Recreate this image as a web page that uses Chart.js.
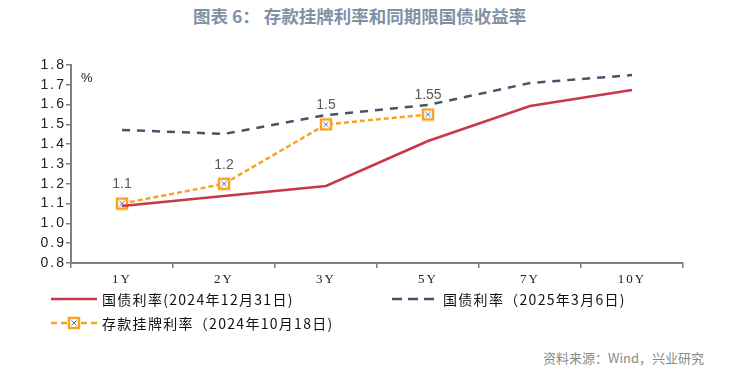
<!DOCTYPE html>
<html lang="zh">
<head>
  <meta charset="UTF-8">
  <title>存款挂牌利率和同期限国债收益率</title>
  <script src="https://cdn.jsdelivr.net/npm/chart.js@4.4.1/dist/chart.umd.min.js"></script>
  <style>
    * { margin: 0; padding: 0; box-sizing: border-box; }
    body {
      width: 736px;
      height: 373px;
      background: #fff;
      font-family: "Noto Sans CJK SC", sans-serif;
      position: relative;
      overflow: hidden;
    }
    .title {
      position: absolute;
      top: 3px;
      left: 193px;
      font-size: 17.5px;
      font-weight: bold;
      color: #8290a6;
      white-space: nowrap;
    }
    .wrap {
      position: absolute;
      left: 0;
      top: 0;
      width: 736px;
      height: 292px;
    }
    .unit {
      position: absolute;
      left: 81px;
      top: 70px;
      font-size: 13px;
      color: #222;
      font-family: "Liberation Sans", sans-serif;
    }
    .legend {
      position: absolute;
      font-size: 14px;
      letter-spacing: 1.3px;
      color: #111;
      display: flex;
      align-items: center;
      white-space: nowrap;
      height: 20px;
    }
    .legend canvas { margin-right: 5px; }
    .source {
      position: absolute;
      left: 543px;
      top: 348px;
      font-size: 13px;
      color: #8a8a8a;
      white-space: nowrap;
    }
  </style>
</head>
<body>
  <div class="title">图表 6： 存款挂牌利率和同期限国债收益率</div>
  <div class="wrap"><canvas id="chart"></canvas></div>
  <div class="unit">%</div>
  <div class="legend" style="left:51px;top:289px;"><canvas id="lg0" width="46" height="14"></canvas>国债利率(2024年12月31日)</div>
  <div class="legend" style="left:392px;top:289px;"><canvas id="lg1" width="46" height="14"></canvas>国债利率（2025年3月6日)</div>
  <div class="legend" style="left:51px;top:313px;"><canvas id="lg2" width="46" height="14"></canvas>存款挂牌利率（2024年10月18日)</div>
  <div class="source">资料来源：Wind，兴业研究</div>

  <script>
    const terms = ['1Y', '2Y', '3Y', '5Y', '7Y', '10Y'];
    const bond20241231 = [1.088, 1.138, 1.189, 1.416, 1.593, 1.674];
    const bond20250306 = [1.472, 1.452, 1.547, 1.598, 1.709, 1.749];
    const depositRate = [1.1, 1.2, 1.5, 1.55, null, null];
    const yTicks = [0.8, 0.9, 1.0, 1.1, 1.2, 1.3, 1.4, 1.5, 1.6, 1.7, 1.8];

    const RED = '#c8374b';
    const NAVY = '#44546a';
    const ORANGE = '#f7a423';

    // square marker with a small cross, drawn once and reused
    function makeMarker() {
      const c = document.createElement('canvas');
      c.width = 14; c.height = 14;
      const g = c.getContext('2d');
      g.fillStyle = '#fff';
      g.fillRect(2, 2, 10, 10);
      g.strokeStyle = ORANGE;
      g.lineWidth = 2.5;
      g.strokeRect(2, 2, 10, 10);
      g.strokeStyle = '#4a7fc0';
      g.lineWidth = 1;
      g.beginPath();
      g.moveTo(4.5, 4.5); g.lineTo(9.5, 9.5);
      g.moveTo(9.5, 4.5); g.lineTo(4.5, 9.5);
      g.stroke();
      return c;
    }
    const marker = makeMarker();

    function legendLine(id, color, dash, withMarker) {
      const g = document.getElementById(id).getContext('2d');
      g.strokeStyle = color;
      g.lineWidth = 2.5;
      g.setLineDash(dash);
      g.beginPath();
      g.moveTo(0, 7); g.lineTo(46, 7);
      g.stroke();
      if (withMarker) g.drawImage(marker, 16, 0);
    }
    legendLine('lg0', RED, [], false);
    legendLine('lg1', NAVY, [10, 6], false);
    legendLine('lg2', ORANGE, [6, 4], true);

    // wider tick lettering like the original
    const spacing = {
      id: 'spacing',
      beforeDraw(chart) { chart.ctx.letterSpacing = '2px'; }
    };

    const pointLabels = {
      id: 'pointLabels',
      afterDatasetsDraw(chart) {
        const ctx = chart.ctx;
        const meta = chart.getDatasetMeta(2);
        ctx.save();
        ctx.letterSpacing = '0px';
        ctx.fillStyle = '#595959';
        ctx.font = '14px "Liberation Sans", sans-serif';
        ctx.textAlign = 'center';
        ctx.textBaseline = 'bottom';
        meta.data.forEach((pt, i) => {
          if (depositRate[i] == null) return;
          ctx.fillText(String(depositRate[i]), pt.x, pt.y - 12);
        });
        ctx.restore();
      }
    };

    new Chart(document.getElementById('chart'), {
      type: 'line',
      data: {
        labels: terms,
        datasets: [
          {
            label: '国债利率(2024年12月31日)',
            data: bond20241231,
            borderColor: RED,
            borderWidth: 2.5,
            pointRadius: 0,
            tension: 0
          },
          {
            label: '国债利率（2025年3月6日)',
            data: bond20250306,
            borderColor: NAVY,
            borderWidth: 2.5,
            borderDash: [8, 7],
            pointRadius: 0,
            tension: 0
          },
          {
            label: '存款挂牌利率（2024年10月18日)',
            data: depositRate,
            borderColor: ORANGE,
            borderWidth: 2.5,
            borderDash: [5, 3],
            pointStyle: marker,
            pointRadius: 7,
            spanGaps: false,
            tension: 0
          }
        ]
      },
      options: {
        responsive: true,
        maintainAspectRatio: false,
        animation: false,
        layout: { padding: { left: 0, right: 53, top: 65, bottom: 0 } },
        plugins: {
          legend: { display: false },
          tooltip: { enabled: false }
        },
        scales: {
          x: {
            offset: true,
            grid: {
              display: true,
              offset: true,
              drawOnChartArea: false,
              tickLength: 5,
              color: '#808080',
              lineWidth: 1.5
            },
            border: { color: '#808080', width: 2 },
            ticks: {
              color: '#222',
              padding: 4,
              font: { family: '"Liberation Serif", serif', size: 13 }
            },
            afterFit(scale) { scale.height = 29; }
          },
          y: {
            min: 0.8,
            max: 1.8,
            afterBuildTicks(scale) {
              scale.ticks = yTicks.map(v => ({ value: v }));
            },
            grid: {
              display: true,
              drawOnChartArea: false,
              tickLength: 5,
              color: '#808080',
              lineWidth: 1.5
            },
            border: { color: '#808080', width: 2 },
            ticks: {
              color: '#222',
              padding: 0,
              font: { family: '"Liberation Sans", sans-serif', size: 14 },
              callback: v => v.toFixed(1)
            },
            afterFit(scale) { scale.width = 71; }
          }
        }
      },
      plugins: [spacing, pointLabels]
    });
  </script>
</body>
</html>
